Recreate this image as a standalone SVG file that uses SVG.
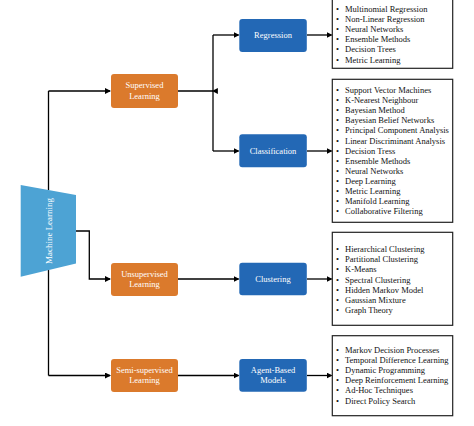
<svg xmlns="http://www.w3.org/2000/svg" width="474" height="426" viewBox="0 0 474 426">
<defs>
<marker id="ah" markerWidth="6" markerHeight="6" refX="5" refY="3" orient="auto" markerUnits="userSpaceOnUse">
<path d="M0,0 L6,3 L0,6 Z" fill="#000"/>
</marker>
<style>
.t{font-family:"Liberation Serif","Times New Roman",serif;font-size:8.5px;}
.w{fill:#fff;text-anchor:middle;}
.k{fill:#111;}
.or{fill:#DB7A2C;}
.bl{fill:#2368B5;}
.lst{fill:#fff;stroke:#222;stroke-width:1.2;}
.c{fill:none;stroke:#000;stroke-width:1.3;}
.ca{fill:none;stroke:#000;stroke-width:1.3;marker-end:url(#ah);}
</style>
</defs>
<rect width="474" height="426" fill="#fff"/>
<g id="connectors">
<path class="c" d="M48.5,190 V91"/>
<path class="ca" d="M48.5,91 H110"/>
<path class="c" d="M48.5,270 V375.5"/>
<path class="ca" d="M48.5,375.5 H110"/>
<path class="ca" d="M76,231 H89.3 V279 H110"/>
<path class="c" d="M178,91 H213"/>
<path class="ca" d="M213,91 H212.9"/>
<path class="c" d="M213,35 V151"/>
<path class="ca" d="M213,35 H238.5"/>
<path class="ca" d="M213,151 H238.5"/>
<path class="ca" d="M307,35 H331.5"/>
<path class="ca" d="M307,151 H331.5"/>
<path class="ca" d="M178,279 H238.5"/>
<path class="ca" d="M307,279 H331.5"/>
<path class="ca" d="M178,375.5 H238.5"/>
<path class="ca" d="M307,375.5 H331.5"/>
</g>
<g id="ml">
<polygon points="20.7,185 76,195 76,263.5 20.7,276.7" fill="#4DA3D4"/>
<text class="t w" style="font-size:9px" transform="translate(52,231) rotate(-90)">Machine Learning</text>
</g>
<g id="supervised">
<rect class="or" x="111" y="74" width="67" height="34" rx="3"/>
<text class="t w" x="144.5" y="88.3">Supervised</text>
<text class="t w" x="144.5" y="98.6">Learning</text>
</g>
<g id="unsupervised">
<rect class="or" x="111" y="263" width="67" height="33" rx="3"/>
<text class="t w" x="144.5" y="276.5">Unsupervised</text>
<text class="t w" x="144.5" y="287">Learning</text>
</g>
<g id="semisupervised">
<rect class="or" x="111" y="359" width="67" height="33" rx="3"/>
<text class="t w" x="144.5" y="373">Semi-supervised</text>
<text class="t w" x="144.5" y="383.3">Learning</text>
</g>
<g id="regression">
<rect class="bl" x="239.3" y="19" width="67.5" height="33" rx="3"/>
<text class="t w" x="273" y="38">Regression</text>
</g>
<g id="classification">
<rect class="bl" x="239.3" y="134.3" width="67.5" height="33" rx="3"/>
<text class="t w" x="273" y="153.7">Classification</text>
</g>
<g id="clustering">
<rect class="bl" x="239.3" y="262.7" width="67.5" height="32.5" rx="3"/>
<text class="t w" x="273" y="281.5">Clustering</text>
</g>
<g id="agent">
<rect class="bl" x="239.3" y="359" width="67.5" height="32.7" rx="3"/>
<text class="t w" x="273" y="373">Agent-Based</text>
<text class="t w" x="273" y="383.3">Models</text>
</g>
<g id="regression-list">
<rect class="lst" x="332.3" y="-3" width="120.4" height="71.3"/>
<g class="t k">
<text x="336" y="12">•</text><text x="345" y="12">Multinomial Regression</text>
<text x="336" y="22">•</text><text x="345" y="22">Non-Linear Regression</text>
<text x="336" y="32">•</text><text x="345" y="32">Neural Networks</text>
<text x="336" y="42.2">•</text><text x="345" y="42.2">Ensemble Methods</text>
<text x="336" y="52.4">•</text><text x="345" y="52.4">Decision Trees</text>
<text x="336" y="62.6">•</text><text x="345" y="62.6">Metric Learning</text>
</g>
</g>
<g id="classification-list">
<rect class="lst" x="332.3" y="79.3" width="120.4" height="143"/>
<g class="t k">
<text x="336" y="93">•</text><text x="345" y="93">Support Vector Machines</text>
<text x="336" y="103.1">•</text><text x="345" y="103.1">K-Nearest Neighbour</text>
<text x="336" y="113.2">•</text><text x="345" y="113.2">Bayesian Method</text>
<text x="336" y="123.3">•</text><text x="345" y="123.3">Bayesian Belief Networks</text>
<text x="336" y="133.4">•</text><text x="345" y="133.4">Principal Component Analysis</text>
<text x="336" y="143.5">•</text><text x="345" y="143.5">Linear Discriminant Analysis</text>
<text x="336" y="153.6">•</text><text x="345" y="153.6">Decision Tress</text>
<text x="336" y="163.7">•</text><text x="345" y="163.7">Ensemble Methods</text>
<text x="336" y="173.8">•</text><text x="345" y="173.8">Neural Networks</text>
<text x="336" y="183.9">•</text><text x="345" y="183.9">Deep Learning</text>
<text x="336" y="194">•</text><text x="345" y="194">Metric Learning</text>
<text x="336" y="204.1">•</text><text x="345" y="204.1">Manifold Learning</text>
<text x="336" y="214.2">•</text><text x="345" y="214.2">Collaborative Filtering</text>
</g>
</g>
<g id="clustering-list">
<rect class="lst" x="332.3" y="232.3" width="120.4" height="93"/>
<g class="t k">
<text x="336" y="252">•</text><text x="345" y="252">Hierarchical Clustering</text>
<text x="336" y="262.2">•</text><text x="345" y="262.2">Partitional Clustering</text>
<text x="336" y="272.4">•</text><text x="345" y="272.4">K-Means</text>
<text x="336" y="282.6">•</text><text x="345" y="282.6">Spectral Clustering</text>
<text x="336" y="292.8">•</text><text x="345" y="292.8">Hidden Markov Model</text>
<text x="336" y="303">•</text><text x="345" y="303">Gaussian Mixture</text>
<text x="336" y="313.2">•</text><text x="345" y="313.2">Graph Theory</text>
</g>
</g>
<g id="agent-list">
<rect class="lst" x="332.3" y="335.7" width="120.4" height="80"/>
<g class="t k">
<text x="336" y="353">•</text><text x="345" y="353">Markov Decision Processes</text>
<text x="336" y="363.1">•</text><text x="345" y="363.1">Temporal Difference Learning</text>
<text x="336" y="373.2">•</text><text x="345" y="373.2">Dynamic Programming</text>
<text x="336" y="383.3">•</text><text x="345" y="383.3">Deep Reinforcement Learning</text>
<text x="336" y="393.4">•</text><text x="345" y="393.4">Ad-Hoc Techniques</text>
<text x="336" y="403.5">•</text><text x="345" y="403.5">Direct Policy Search</text>
</g>
</g>
</svg>
